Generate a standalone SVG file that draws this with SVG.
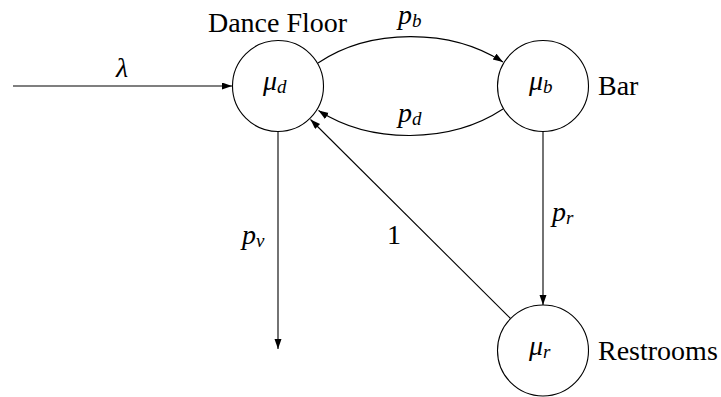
<svg xmlns="http://www.w3.org/2000/svg" width="721" height="397" viewBox="0 0 721 397">
<defs>
  <marker id="arrow" markerUnits="userSpaceOnUse" markerWidth="10" markerHeight="8" refX="10" refY="3.5" orient="auto">
    <path d="M0,0 L10,3.5 L0,7 Z" fill="#000000"/>
  </marker>
</defs>
<g id="connectors" fill="none" stroke="#000000" stroke-width="1.1">
  <line id="edge-lambda" x1="13" y1="86" x2="232" y2="86" marker-end="url(#arrow)"/>
  <path id="edge-pb" d="M318,63 C370,28 450,28 503,62" marker-end="url(#arrow)"/>
  <path id="edge-pd" d="M503,109 C450,144 370,144 318.5,110.5" marker-end="url(#arrow)"/>
  <line id="edge-pv" x1="278" y1="131.5" x2="278" y2="349" marker-end="url(#arrow)"/>
  <line id="edge-pr" x1="543" y1="131.5" x2="543" y2="305" marker-end="url(#arrow)"/>
  <line id="edge-1" x1="510.5" y1="318.5" x2="310.5" y2="119.5" marker-end="url(#arrow)"/>
</g>
<g id="edge-labels" font-family="Liberation Serif" font-size="28" fill="#000000">
  <text x="116" y="77" font-style="italic">λ</text>
  <text x="398" y="24" font-style="italic">p<tspan font-size="19" dy="3">b</tspan></text>
  <text x="398" y="122" font-style="italic">p<tspan font-size="19" dy="3">d</tspan></text>
  <text x="242" y="244" font-style="italic">p<tspan font-size="19" dy="3">v</tspan></text>
  <text x="552" y="221" font-style="italic">p<tspan font-size="19" dy="3">r</tspan></text>
  <text x="387" y="244">1</text>
</g>
<g id="node-dance" font-family="Liberation Serif" font-size="28">
  <circle cx="278" cy="86" r="45.5" fill="#ffffff" stroke="#000000" stroke-width="1.1"/>
  <text x="263" y="90" font-style="italic">μ<tspan font-size="19" dy="3">d</tspan></text>
  <text x="277.5" y="32" text-anchor="middle">Dance Floor</text>
</g>
<g id="node-bar" font-family="Liberation Serif" font-size="28">
  <circle cx="543" cy="86" r="45.5" fill="#ffffff" stroke="#000000" stroke-width="1.1"/>
  <text x="529" y="90" font-style="italic">μ<tspan font-size="19" dy="3">b</tspan></text>
  <text x="598" y="95">Bar</text>
</g>
<g id="node-restrooms" font-family="Liberation Serif" font-size="28">
  <circle cx="543" cy="350.5" r="45.5" fill="#ffffff" stroke="#000000" stroke-width="1.1"/>
  <text x="529" y="355" font-style="italic">μ<tspan font-size="19" dy="3">r</tspan></text>
  <text x="598" y="360">Restrooms</text>
</g>
</svg>
